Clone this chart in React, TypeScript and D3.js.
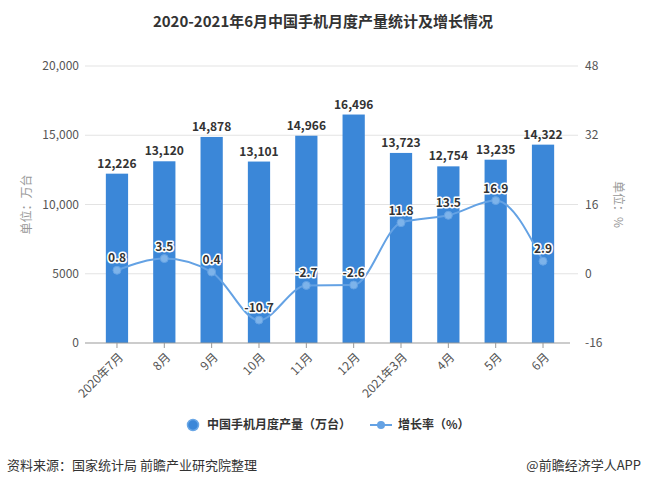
import React from "react";
import * as d3 from "d3";

const categories = ["2020年7月", "8月", "9月", "10月", "11月", "12月", "2021年3月", "4月", "5月", "6月"];
const production = [12226, 13120, 14878, 13101, 14966, 16496, 13723, 12754, 13235, 14322];
const growth = [0.8, 3.5, 0.4, -10.7, -2.7, -2.6, 11.8, 13.5, 16.9, 2.9];
const leftTicks = [0, 5000, 10000, 15000, 20000];
const rightTicks = [-16, 0, 16, 32, 48];

const W = 647, H = 482;
const top = 66, bottom = 343;
const gridL = 85, gridR = 578;

export default function App() {
  const x = d3.scaleBand<string>().domain(categories).range([93.3, 566.7]).paddingInner(0.53).paddingOuter(0.265);
  const yL = d3.scaleLinear().domain([0, 20000]).range([bottom, top]);
  const yR = d3.scaleLinear().domain([-16, 48]).range([bottom, top]);
  const cx = (c: string) => (x(c) as number) + x.bandwidth() / 2;
  const line = d3.line<number>().x((_, i) => cx(categories[i])).y(d => yR(d)).curve(d3.curveMonotoneX);
  const font = "'Noto Sans CJK SC', 'Noto Sans', sans-serif";
  const fmt = (v: number) => (v >= 10000 ? d3.format(",")(v) : String(v));
  return (
    <svg width={W} height={H} style={{ position: "absolute", left: 0, top: 0, background: "#fff" }} fontFamily={font}>
      <text x={323} y={27} textAnchor="middle" fontSize={15} fontWeight="bold" fill="#333">2020-2021年6月中国手机月度产量统计及增长情况</text>
      {leftTicks.map(t => (
        <g key={t}>
          {t !== 0 && <line x1={gridL} x2={gridR} y1={yL(t)} y2={yL(t)} stroke="#e3e3e3" />}
          <text x={79} y={yL(t)} dy="0.35em" textAnchor="end" fontSize={12} fill="#555">{fmt(t)}</text>
        </g>
      ))}
      {rightTicks.map(t => (
        <text key={t} x={585} y={yR(t)} dy="0.35em" textAnchor="start" fontSize={12} fill="#555">{t}</text>
      ))}
      <text transform={`translate(31,${(top + bottom) / 2}) rotate(-90)`} textAnchor="middle" fontSize={12} fill="#999">单位：万台</text>
      <text transform={`translate(614,${yR(16)}) rotate(90)`} textAnchor="middle" fontSize={12} fill="#999">单位：%</text>
      {categories.map((c, i) => (
        <rect key={c} x={x(c)} y={yL(production[i])} width={x.bandwidth()} height={bottom - yL(production[i])} fill="#3b87d8" />
      ))}
      <line x1={gridL} x2={570} y1={bottom} y2={bottom} stroke="#999" />
      {categories.map(c => (
        <g key={c}>
          <line x1={cx(c)} x2={cx(c)} y1={bottom} y2={bottom + 5} stroke="#999" />
          <text transform={`translate(${cx(c) + 4},${bottom + 12}) rotate(-45)`} textAnchor="end" dy="0.35em" fontSize={12} fill="#555">{c}</text>
        </g>
      ))}
      {categories.map((c, i) => (
        <text key={c} x={cx(c)} y={yL(production[i]) - 6} textAnchor="middle" fontSize={12} fontWeight="bold" fill="#333">{fmt(production[i])}</text>
      ))}
      <path d={line(growth) as string} fill="none" stroke="#64a2e4" strokeWidth={2} />
      {categories.map((c, i) => (
        <circle key={c} cx={cx(c)} cy={yR(growth[i])} r={4} fill="#7db3ea" stroke="#64a2e4" strokeWidth={1} />
      ))}
      {categories.map((c, i) => (
        <text key={c} x={cx(c)} y={yR(growth[i]) - 8} textAnchor="middle" fontSize={12} fontWeight="bold" fill="#333" stroke="#fff" strokeWidth={3} paintOrder="stroke" strokeLinejoin="round">{growth[i]}</text>
      ))}
      <circle cx={193} cy={425} r={5.5} fill="#3b87d8" stroke="#6aa7e6" strokeWidth={1.5} />
      <text x={207} y={425} dy="0.35em" fontSize={12} fontWeight="bold" fill="#333">中国手机月度产量（万台）</text>
      <line x1={370} x2={392} y1={425} y2={425} stroke="#64a2e4" strokeWidth={2} />
      <circle cx={381} cy={425} r={4} fill="#64a2e4" />
      <text x={398} y={425} dy="0.35em" fontSize={12} fontWeight="bold" fill="#333">增长率（%）</text>
      <text x={7} y={465} dy="0.35em" fontSize={13} fill="#333">资料来源：国家统计局 前瞻产业研究院整理</text>
      <text x={641} y={465} dy="0.35em" textAnchor="end" fontSize={13} fill="#333">@前瞻经济学人APP</text>
    </svg>
  );
}
